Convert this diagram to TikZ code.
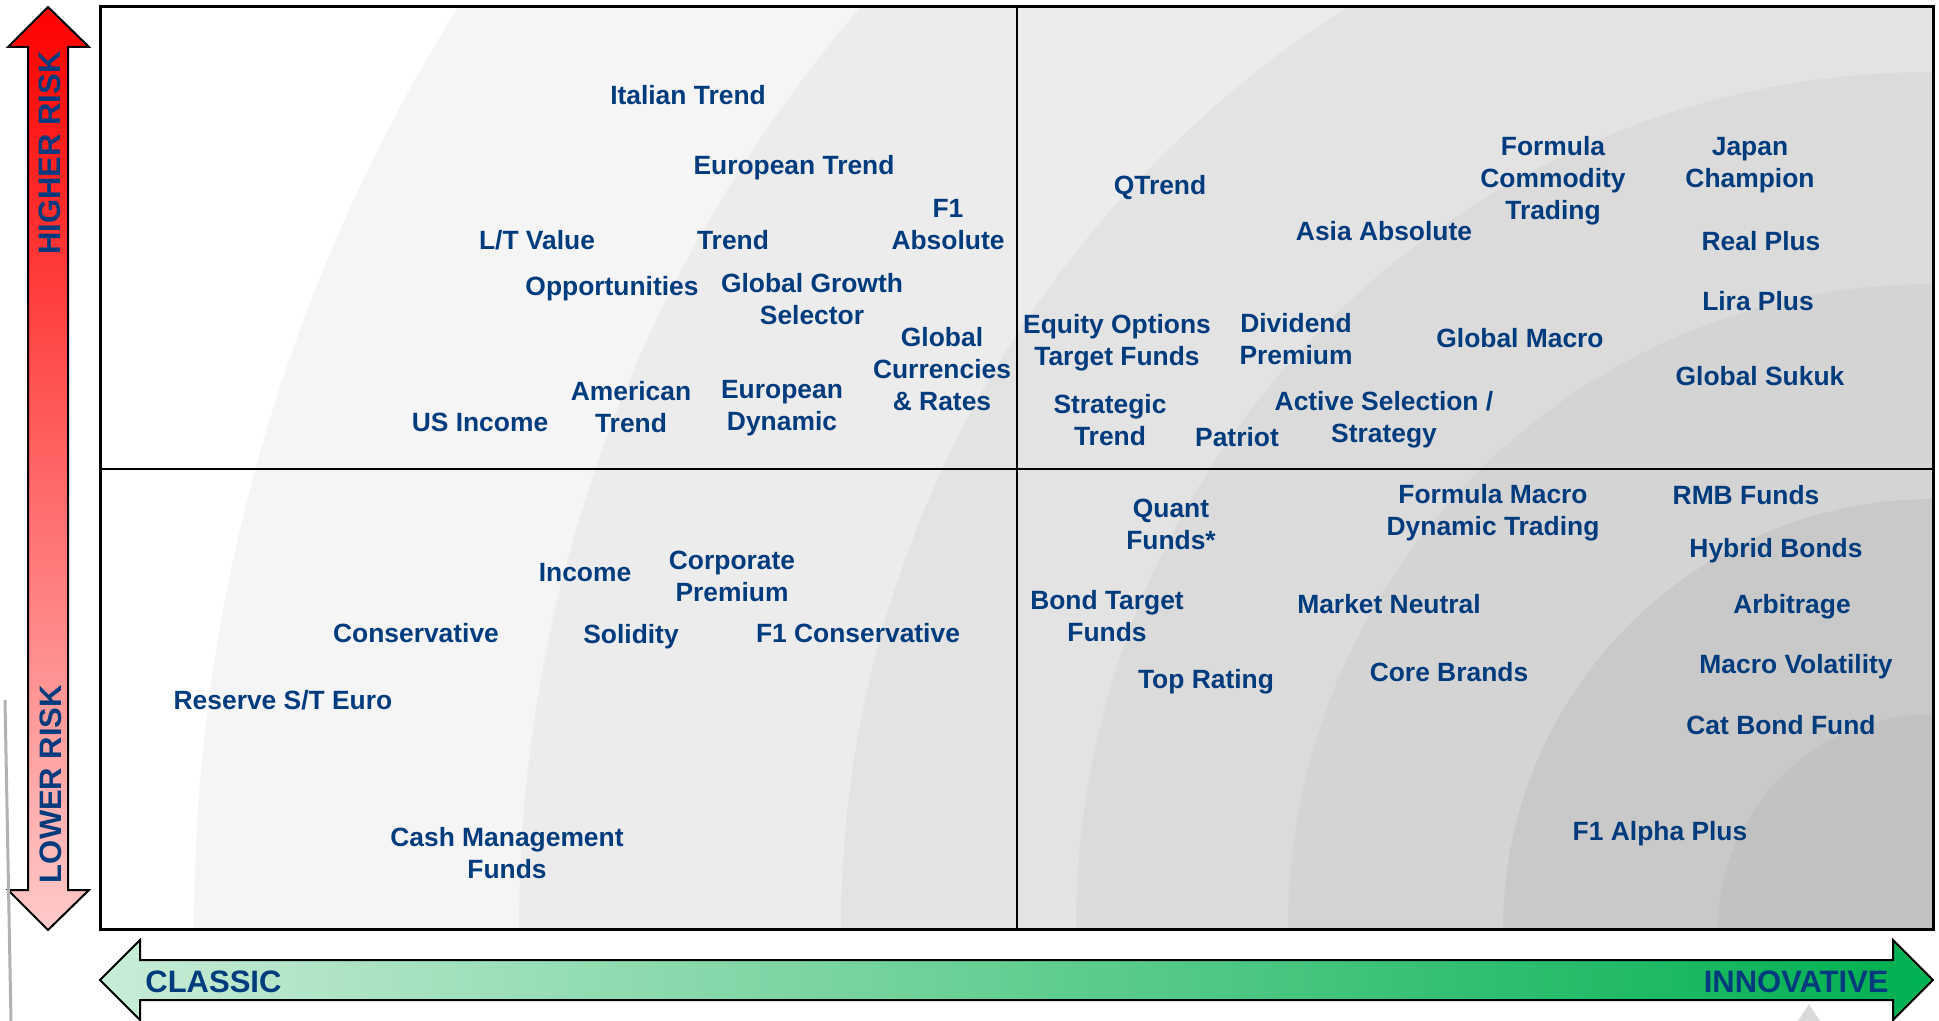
\documentclass[tikz,border=0pt]{standalone}
\usepackage{fontspec}
\setmainfont{Liberation Sans}

\definecolor{fundblue}{RGB}{0,60,125}
\definecolor{riskhigh}{RGB}{255,0,0}
\definecolor{risklow}{RGB}{255,202,202}
\definecolor{classicgreen}{RGB}{200,236,214}
\definecolor{innovgreen}{RGB}{0,176,80}

\begin{document}
\begin{tikzpicture}[x=.5pt, y=-.5pt,
		fund/.style={text=fundblue, font=\bfseries\fontsize{13.2}{16}\selectfont, align=center, inner sep=0pt},
		axislabel/.style={text=fundblue, font=\bfseries\fontsize{15.5}{18}\selectfont, inner sep=0pt},
		arrowbody/.style={draw=black, line width=1pt}]
		\useasboundingbox (0,0) rectangle (1939,1021);
		\pgfmathsetmacro{\boxl}{100}
		\pgfmathsetmacro{\boxt}{7}
		\pgfmathsetmacro{\boxr}{1933}
		\pgfmathsetmacro{\boxb}{929}
		\pgfmathsetmacro{\midx}{1017}
		\pgfmathsetmacro{\midy}{469}

		% grey rings round the lower right corner
		\begin{scope}
			\clip (\boxl,\boxt) rectangle (\boxr,\boxb);
			\fill[white] (\boxl,\boxt) rectangle (\boxr,\boxb);
			\foreach \r/\k in {1739/4, 1414/7.5, 1092/11, 857/14, 645/17, 430/21, 215/24}
				\fill[black!\k] (\boxr,\boxb) circle [radius=\r*0.5pt];
		\end{scope}
		\draw[line width=1.5pt] (\boxl,\boxt) rectangle (\boxr,\boxb);
		\draw[line width=1pt] (\midx,\boxt) -- (\midx,\boxb) (\boxl,\midy) -- (\boxr,\midy);

		% risk axis
		\shade[arrowbody, top color=riskhigh, bottom color=risklow]
		(48,7) -- (89,47) -- (68,47) -- (68,890) -- (89,890) -- (48,930) -- (8,890) -- (28,890) -- (28,47) -- (8,47) -- cycle;
		\node[axislabel, rotate=90] (higher) at (50,153) {HIGHER RISK};
		\node[axislabel, rotate=90] (lower) at (51,784) {LOWER RISK};

		% style axis
		\shade[arrowbody, left color=classicgreen, right color=innovgreen]
		(100,980) -- (140,940) -- (140,960) -- (1893,960) -- (1893,940) -- (1933,980) -- (1893,1020) -- (1893,1000) -- (140,1000) -- (140,1020) -- cycle;
		\node[axislabel, anchor=west] (classic) at (145,982) {CLASSIC};
		\node[axislabel, anchor=east] (innovative) at (1889,982) {INNOVATIVE};

		\draw[black!30, line width=1.5pt] (5,700) -- (11,1021);
		\fill[black!15] (1798,1021) -- (1809,1004) -- (1820,1021) -- cycle;

		% classic, higher risk
		\node[fund] (italian) at (688,95) {Italian Trend};
		\node[fund] (eurtrend) at (794,168) {European Trend};
		\node[fund] (fabsolute) at (948,225) {F1\\Absolute};
		\node[fund] (ltvalue) at (537,240) {L/T Value};
		\node[fund] (trend) at (733,240) {Trend};
		\node[fund] (opport) at (612,289) {Opportunities};
		\node[fund] (ggrowth) at (812,299) {Global Growth\\Selector};
		\node[fund] (gcurr) at (942,369) {Global\\Currencies\\\& Rates};
		\node[fund] (usincome) at (480,422) {US Income};
		\node[fund] (amtrend) at (631,407) {American\\Trend};
		\node[fund] (eurdyn) at (782,408) {European\\Dynamic};

		% innovative, higher risk
		\node[fund] (qtrend) at (1160,188) {QTrend};
		\node[fund] (asiaabs) at (1384,231) {Asia Absolute};
		\node[fund] (fcommod) at (1553,181) {Formula\\Commodity\\Trading};
		\node[fund] (japan) at (1750,165) {Japan\\Champion};
		\node[fund] (realplus) at (1761,241) {Real Plus};
		\node[fund] (liraplus) at (1758,301) {Lira Plus};
		\node[fund] (sukuk) at (1760,376) {Global Sukuk};
		\node[fund] (gmacro) at (1520,338) {Global Macro};
		\node[fund] (eqopt) at (1117,343) {Equity Options\\Target Funds};
		\node[fund] (divprem) at (1296,339) {Dividend\\Premium};
		\node[fund] (strat) at (1110,420) {Strategic\\Trend};
		\node[fund] (patriot) at (1237,437) {Patriot};
		\node[fund] (actsel) at (1384,420) {Active Selection /\\Strategy};

		% classic, lower risk
		\node[fund] (income) at (585,573) {Income};
		\node[fund] (corpprem) at (732,576) {Corporate\\Premium};
		\node[fund] (conserv) at (416,633) {Conservative};
		\node[fund] (solidity) at (631,637) {Solidity};
		\node[fund] (fconserv) at (858,633) {F1 Conservative};
		\node[fund] (reserve) at (283,700) {Reserve S/T Euro};
		\node[fund] (cashman) at (507,853) {Cash Management\\Funds};

		% innovative, lower risk
		\node[fund] (quant) at (1171,524) {Quant\\Funds*};
		\node[fund] (fmacro) at (1493,513) {Formula Macro\\Dynamic Trading};
		\node[fund] (rmb) at (1746,495) {RMB Funds};
		\node[fund] (hybrid) at (1776,551) {Hybrid Bonds};
		\node[fund] (bondtarget) at (1107,616) {Bond Target\\Funds};
		\node[fund] (mneutral) at (1389,604) {Market Neutral};
		\node[fund] (arbitrage) at (1792,607) {Arbitrage};
		\node[fund] (toprating) at (1206,682) {Top Rating};
		\node[fund] (corebrands) at (1449,672) {Core Brands};
		\node[fund] (macrovol) at (1796,667) {Macro Volatility};
		\node[fund] (catbond) at (1781,725) {Cat Bond Fund};
		\node[fund] (alphaplus) at (1660,834) {F1 Alpha Plus};
	\end{tikzpicture}
\end{document}
